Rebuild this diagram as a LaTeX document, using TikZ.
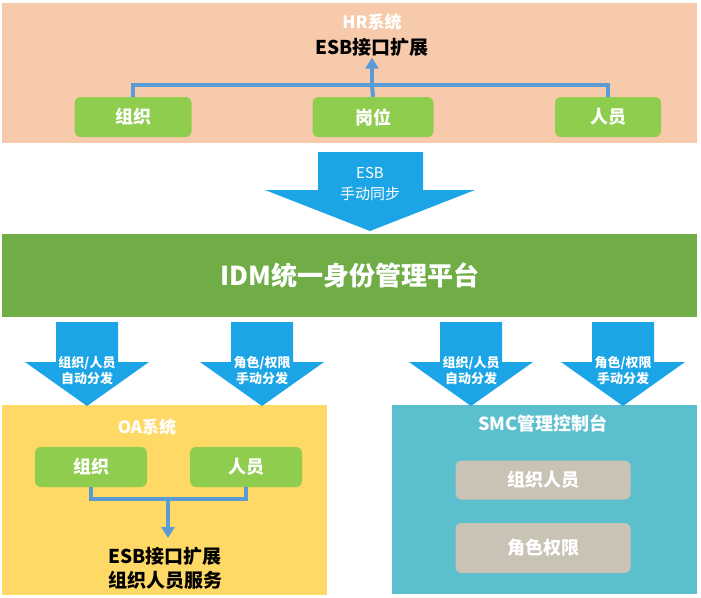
\documentclass[tikz,border=0pt]{standalone}
\usepackage{fontspec}
\setmainfont{Noto Sans CJK SC}
\usetikzlibrary{arrows.meta}
\definecolor{hrpeach}{HTML}{F7CAAC}
\definecolor{boxgreen}{HTML}{8FCD4F}
\definecolor{linkblue}{HTML}{5B9BD5}
\definecolor{arrowblue}{HTML}{1BA5E6}
\definecolor{idmgreen}{HTML}{70AD47}
\definecolor{oayellow}{HTML}{FFD966}
\definecolor{smcteal}{HTML}{5CBFCE}
\definecolor{itemgray}{HTML}{C8C3B5}
\begin{document}
\begin{tikzpicture}[x=1pt,y=-1pt,
	box/.style={rounded corners=6pt,fill=boxgreen,text=white,inner sep=0pt,minimum height=40pt,font=\bfseries\fontsize{18}{20}\selectfont},
	item/.style={box,fill=itemgray},
	title/.style={text=white,font=\bfseries\fontsize{17}{20}\selectfont},
	note/.style={text=black,align=center,font=\bfseries\fontsize{19}{24}\selectfont},
	tag/.style={text=white,align=center,font=\bfseries\fontsize{13}{16}\selectfont},
	link/.style={draw=linkblue,line width=4pt},
	tip/.style={-{Triangle[width=13pt,length=11pt]}}]
	\useasboundingbox (0,0) rectangle (701,597);
	
	% panels
	\fill[hrpeach] (2,3) rectangle (697,143);
	\fill[idmgreen] (2,234) rectangle (697,317);
	\fill[oayellow] (2,405) rectangle (327,595);
	\fill[smcteal] (392,405) rectangle (697,594);
	
	% HR
	\node[title] (hr) at (372,22) {HR系统};
	\node[note] (hresb) at (372,47) {ESB接口扩展};
	\node[box,minimum width=117pt] (hrorg) at (133,117) {组织};
	\node[box,minimum width=121pt] (hrpost) at (373,117) {岗位};
	\node[box,minimum width=106pt] (hrstaff) at (608,117) {人员};
	\coordinate (hrhub) at (372,85);
	\draw[link] (hrorg.north) |- (hrhub) -| (hrstaff.north);
	\draw[link] (hrpost.north) -- (hrhub);
	\draw[link,tip,shorten >=-2pt] (hrhub) -- (hresb.south);
	
	% ESB sync
	\fill[arrowblue] (318,152) -- (423,152) -- (423,190) -- (475,190) -- (370,231)
		-- (265,190) -- (318,190) -- cycle;
	\node[text=white,align=center,font=\fontsize{15}{21}\selectfont] (sync) at (370,184) {ESB\\手动同步};
	
	% IDM
	\node[text=white,font=\bfseries\fontsize{26}{30}\selectfont] (idm) at (350,275) {IDM统一身份管理平台};
	
	% distribution arrows
	\foreach \x/\top/\bot [count=\i] in {87/{组织/人员}/自动分发,262/{角色/权限}/手动分发,471/{组织/人员}/自动分发,623/{角色/权限}/手动分发}{
		\fill[arrowblue] ({\x-31},322) -- ({\x+31},322) -- ({\x+31},362) -- ({\x+62},362) -- (\x,406)
			-- ({\x-62},362) -- ({\x-31},362) -- cycle;
		\node[tag] (dist\i) at (\x,371) {\top\\\bot};
	}
	
	% OA
	\node[title] (oa) at (147,427) {OA系统};
	\node[box,minimum width=112pt] (oaorg) at (91,467) {组织};
	\node[box,minimum width=112pt] (oastaff) at (246,467) {人员};
	\node[note] (oaesb) at (165,568) {ESB接口扩展\\组织人员服务};
	\coordinate (oahub) at (168,499);
	\draw[link] (oaorg.south) |- (oahub) -| (oastaff.south);
	\draw[link,tip] (oahub) -- (168,538);
	
	% SMC
	\node[title,font=\bfseries\fontsize{18}{20}\selectfont] (smc) at (543,423) {SMC管理控制台};
	\node[item,minimum width=175pt,minimum height=39pt] (smcstaff) at (543,480) {组织人员};
	\node[item,minimum width=175pt,minimum height=50pt] (smcrole) at (543,548) {角色权限};
\end{tikzpicture}
\end{document}
